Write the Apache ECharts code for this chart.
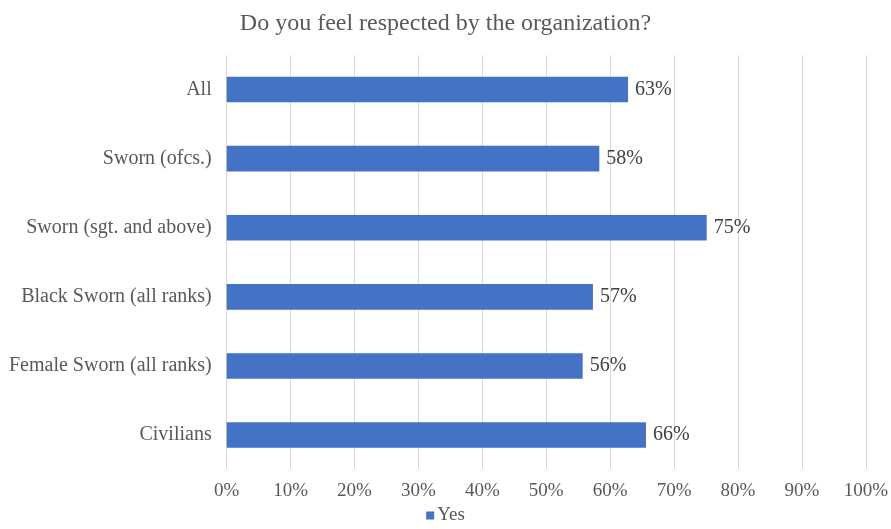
<!DOCTYPE html>
<html><head><meta charset="utf-8">
<script src="https://cdn.jsdelivr.net/npm/echarts@6/dist/echarts.min.js"></script>
<style>html,body{margin:0;padding:0;background:#fff}#c{width:891px;height:529px}</style>
</head><body><div id="c"></div>
<script>
const categories = ["All","Sworn (ofcs.)","Sworn (sgt. and above)","Black Sworn (all ranks)","Female Sworn (all ranks)","Civilians"];
const yesValues = [62.8, 58.3, 75.1, 57.3, 55.7, 65.6];
const yesLabels = ["63%","58%","75%","57%","56%","66%"];
const seriesName = "Yes";
const titleText = "Do you feel respected by the organization?";
const font = "Liberation Serif, Times New Roman, serif";
const chart = echarts.init(document.getElementById('c'));
chart.setOption({
  animation:false,
  textStyle:{fontFamily:font},
  title:{text:titleText,left:'center',top:7,textStyle:{fontFamily:font,fontSize:24,fontWeight:'normal',color:'#595959'}},
  legend:{data:[seriesName],bottom:-1,left:'center',itemWidth:8,itemHeight:8,icon:'rect',itemGap:5,
    textStyle:{fontFamily:font,fontSize:19,color:'#595959',padding:[0,0,0,-2]}},
  grid:{left:226.7,right:24.3,top:55,bottom:59.4,containLabel:false},
  xAxis:{type:'value',min:0,max:100,interval:10,
    axisLabel:{formatter:v=>v+'%',fontFamily:font,fontSize:19,color:'#595959',margin:12},
    splitLine:{lineStyle:{color:'#d9d9d9'}},axisLine:{show:false},axisTick:{show:false}},
  yAxis:{type:'category',data:categories,inverse:true,
    axisLabel:{fontFamily:font,fontSize:20,color:'#595959',margin:15},
    axisLine:{show:false},axisTick:{show:false},splitLine:{show:false}},
  series:[{name:seriesName,type:'bar',data:yesValues,barCategoryGap:'63%',
    itemStyle:{color:'#4472C4'},
    label:{show:true,position:'right',distance:7,formatter:p=>yesLabels[p.dataIndex],
      fontFamily:font,fontSize:20,color:'#404040'}}]
});
</script></body></html>
